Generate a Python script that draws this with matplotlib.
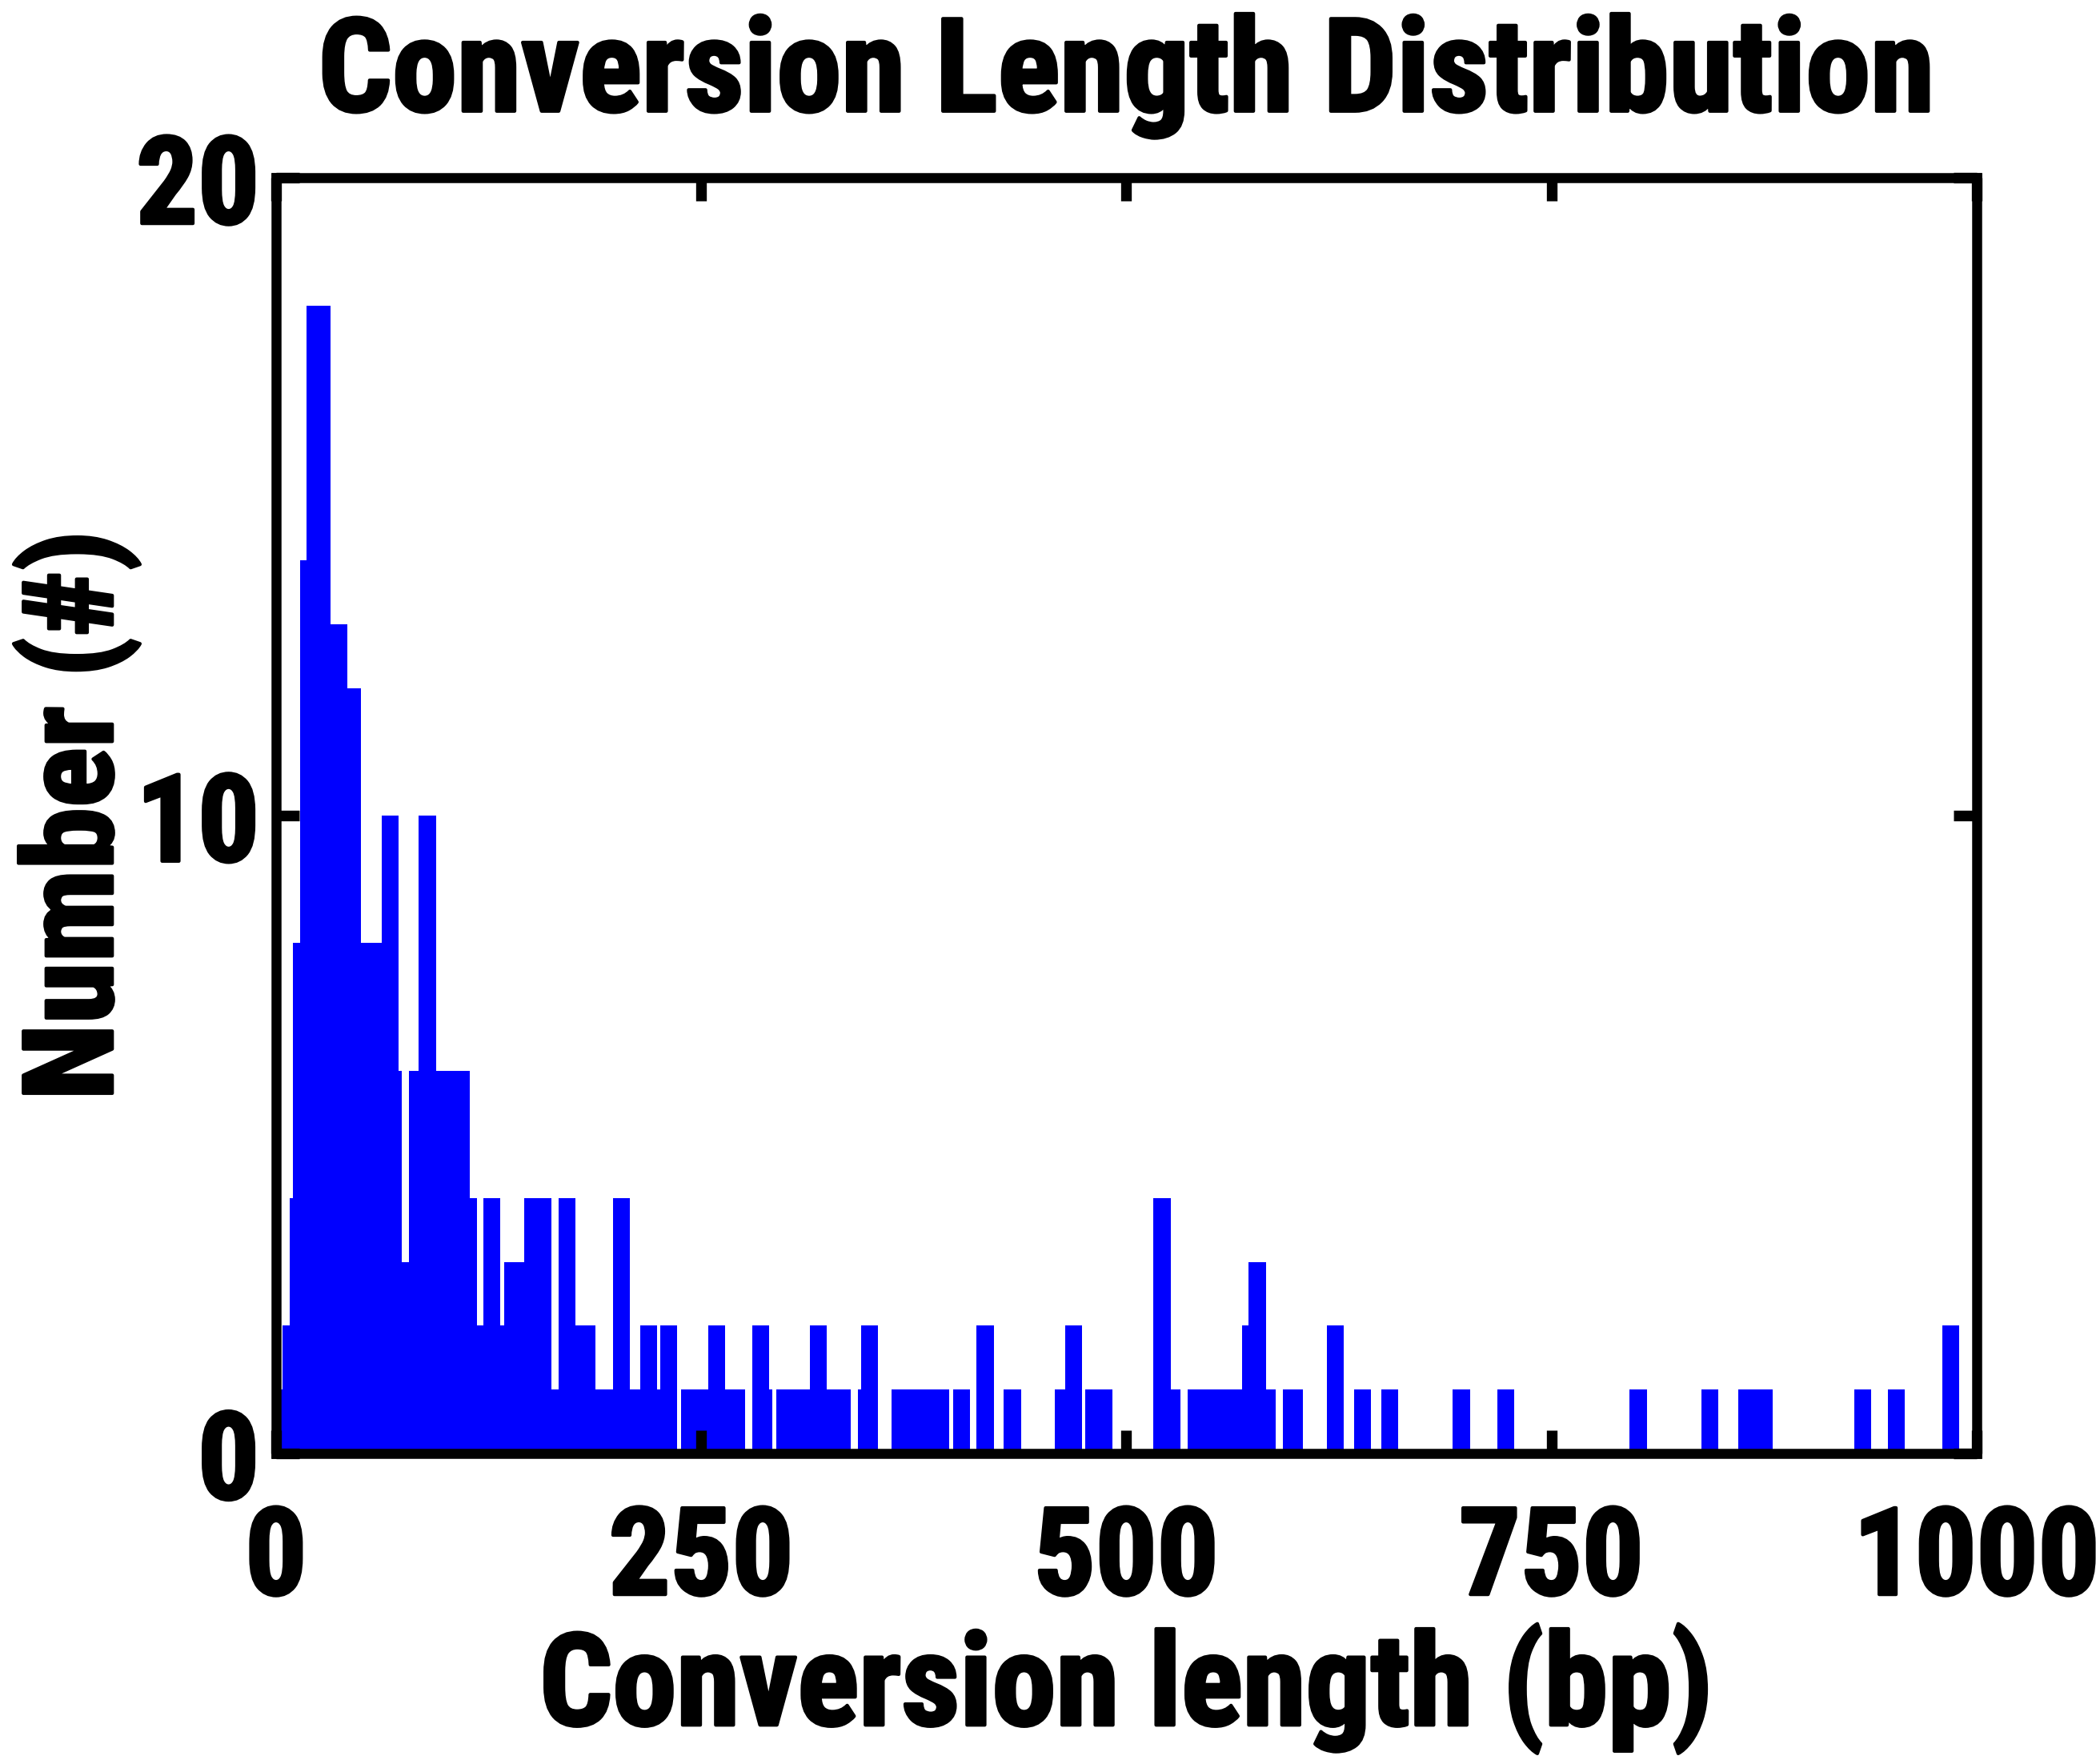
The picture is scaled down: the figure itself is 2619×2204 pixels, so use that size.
import numpy as np
import matplotlib
matplotlib.use('Agg')
import matplotlib.pyplot as plt
from matplotlib import font_manager
import matplotlib.patheffects as pe

# conversion length profile (bp): step edges and counts
bin_edges = [0, 4, 8, 10, 14, 18, 32, 42, 50, 62, 72, 74, 78, 84, 94, 114, 118,
             122, 132, 134, 146, 162, 166, 176, 188, 198, 208, 214, 224, 226,
             236, 238, 254, 264, 276, 280, 290, 292, 294, 314, 324, 338, 342,
             344, 354, 362, 396, 398, 408, 412, 422, 428, 438, 458, 464, 474,
             476, 492, 516, 526, 532, 536, 568, 572, 582, 588, 592, 604, 618,
             628, 634, 644, 650, 660, 692, 702, 718, 728, 796, 806, 838, 848,
             860, 880, 928, 938, 948, 958, 980, 990, 1000]
counts = [1, 2, 4, 8, 14, 18, 13, 12, 8, 10,
          6, 3, 6, 10, 6, 4, 2, 4, 2, 3,
          4, 1, 4, 2, 1, 4, 1, 2, 1, 2,
          0, 1, 2, 1, 0, 2, 1, 0, 1, 2,
          1, 0, 1, 2, 0, 1, 0, 1, 0, 2,
          0, 1, 0, 1, 2, 0, 1, 0, 4, 1,
          0, 1, 2, 3, 1, 0, 1, 0, 2, 0,
          1, 0, 1, 0, 1, 0, 1, 0, 1, 0,
          1, 0, 1, 0, 1, 0, 1, 0, 2, 0]

x_ticks = [0, 250, 500, 750, 1000]
y_ticks = [0, 10, 20]

# look for a narrow bold sans, else plain Liberation Sans
avail = set(f.name for f in font_manager.fontManager.ttflist)
cands = ['Liberation Sans Narrow', 'Arial Narrow', 'Roboto Condensed',
         'Noto Sans Condensed', 'Open Sans Condensed', 'Noto Sans SemiCondensed',
         'DejaVu Sans Condensed']
fam, stretch = None, 'normal'
for c in cands:
    if c in avail:
        fam = c
        break
if fam is None:
    for f in font_manager.fontManager.ttflist:
        if f.stretch in ('condensed', 'semi-condensed') and f.name in (
                'Liberation Sans', 'Noto Sans', 'Roboto', 'Open Sans',
                'DejaVu Sans', 'Lato', 'Inter'):
            fam, stretch = f.name, f.stretch
            break
scale = 1.0
if fam is None:
    fam = 'Liberation Sans'
    scale = 0.85
plt.rcParams['font.family'] = [fam, 'DejaVu Sans']
plt.rcParams['font.stretch'] = stretch
plt.rcParams['font.weight'] = 'bold'

# a thin outline makes the bold a bit heavier, like the original
heavy = [pe.withStroke(linewidth=1.0, foreground='black')]

fig = plt.figure(figsize=(2619 / 300, 2204 / 300), dpi=300)
ax = fig.add_axes([0.1317, 0.1762, 0.8113, 0.7230])

ax.stairs(counts, bin_edges, fill=True, color='#0000ff', linewidth=0)

ax.set_xlim(0, 1000)
ax.set_ylim(0, 20)
ax.set_xticks(x_ticks)
ax.set_yticks(y_ticks)

for s in ax.spines.values():
    s.set_linewidth(3)
ax.tick_params(direction='in', length=7, width=3.2, top=True, right=True,
               labelsize=36.5 * scale)
ax.tick_params(axis='x', pad=15)
ax.tick_params(axis='y', pad=5)
for lbl in ax.get_xticklabels() + ax.get_yticklabels():
    lbl.set_path_effects(heavy)

ax.set_title('Conversion Length Distribution', fontsize=39 * scale,
             fontweight='bold', pad=20, path_effects=heavy)
ax.set_xlabel('Conversion length (bp)', fontsize=38.5 * scale,
              fontweight='bold', va='top', path_effects=heavy)
ax.xaxis.set_label_coords(0.5, -0.134)
ax.set_ylabel('Number (#)', fontsize=37.5 * scale, fontweight='bold',
              path_effects=heavy)
ax.yaxis.set_label_coords(-0.080, 0.5)

fig.savefig('out.png', dpi=300)
